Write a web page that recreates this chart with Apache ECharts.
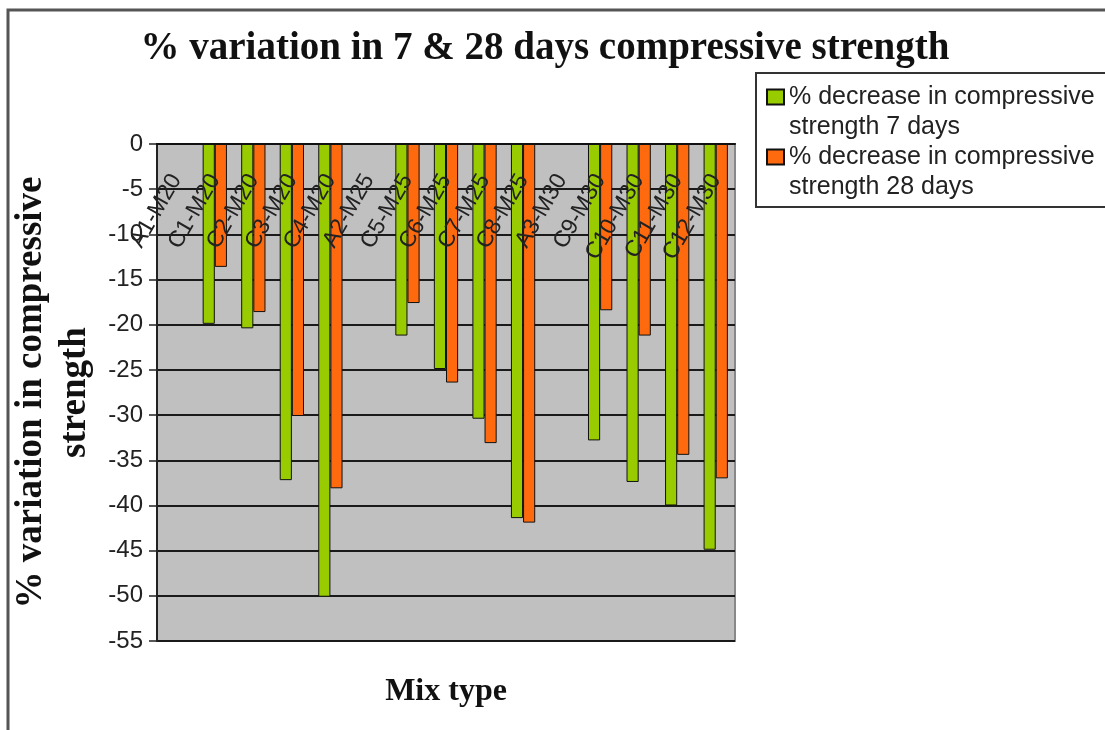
<!DOCTYPE html>
<html>
<head>
<meta charset="utf-8">
<script src="https://cdn.jsdelivr.net/npm/echarts@6/dist/echarts.min.js"></script>
<style>
html,body{margin:0;padding:0;background:#fff;}
#chart{width:1105px;height:730px;}
</style>
</head>
<body>
<div id="chart"></div>
<script>
const categories = ['A1-M20','C1-M20','C2-M20','C3-M20','C4-M20','A2-M25','C5-M25','C6-M25','C7-M25','C8-M25','A3-M30','C9-M30','C10-M30','C11-M30','C12-M30'];
const decrease7Days = [0, -19.9, -20.4, -37.2, -50.1, 0, -21.2, -24.9, -30.4, -41.4, 0, -32.8, -37.4, -40.0, -44.9];
const decrease28Days = [0, -13.6, -18.6, -30.1, -38.1, 0, -17.6, -26.4, -33.1, -41.9, 0, -18.4, -21.2, -34.4, -37.0];
const seriesNames = ['% decrease in compressive\nstrength 7 days', '% decrease in compressive\nstrength 28 days'];
const titleText = '% variation in 7 & 28 days compressive strength';
const yAxisName = '% variation in compressive\nstrength';
const xAxisName = 'Mix type';

const chart = echarts.init(document.getElementById('chart'), null, {renderer: 'canvas'});
const serif = '"Liberation Serif", "DejaVu Serif", serif';
const sans = '"Liberation Sans", Arial, sans-serif';

chart.setOption({
  animation: false,
  backgroundColor: '#fff',
  graphic: [
    {type: 'rect', z: -10, shape: {x: 8, y: 10, width: 1200, height: 800},
     style: {fill: '#fff', stroke: '#555', lineWidth: 3}},
    {type: 'rect', z: -5, shape: {x: 756, y: 73, width: 400, height: 134},
     style: {fill: '#fff', stroke: '#333', lineWidth: 2}}
  ],
  title: {
    text: titleText,
    left: 540, top: 24, textAlign: 'center',
    textStyle: {fontFamily: serif, fontWeight: 'bold', fontSize: 39, color: '#111'}
  },
  legend: {
    orient: 'vertical',
    left: 766, top: 52,
    padding: 0,
    itemGap: -30,
    itemWidth: 17, itemHeight: 15,
    icon: 'rect',
    selectedMode: false,
    data: seriesNames,
    formatter: function (name) { return '\n' + name; },
    textStyle: {fontFamily: sans, fontSize: 25, color: '#222', lineHeight: 30}
  },
  grid: {
    left: 157, right: 370, top: 144, bottom: 89,
    show: true, backgroundColor: '#c0c0c0', borderColor: '#888', borderWidth: 2
  },
  xAxis: [{
    type: 'category',
    data: categories,
    position: 'top',
    z: 10,
    axisLine: {onZero: false, lineStyle: {color: '#111', width: 2}},
    axisTick: {inside: true, length: 7, lineStyle: {color: '#111', width: 1.5}},
    axisLabel: {inside: true, rotate: -60, margin: 32, interval: 0,
      fontFamily: sans, fontSize: 23, color: '#222'},
    splitLine: {show: false}
  }, {
    type: 'category',
    data: categories,
    position: 'bottom',
    axisLine: {show: false, onZero: false},
    axisTick: {show: false},
    axisLabel: {show: false},
    splitLine: {show: false},
    name: xAxisName,
    nameLocation: 'middle',
    nameGap: 35,
    nameTextStyle: {fontFamily: serif, fontWeight: 'bold', fontSize: 32, color: '#111'}
  }],
  yAxis: {
    type: 'value',
    min: -55, max: 0, interval: 5,
    axisLine: {show: true, lineStyle: {color: '#222', width: 2}},
    axisTick: {show: true, length: 8, lineStyle: {color: '#222', width: 1.5}},
    axisLabel: {margin: 14, fontFamily: sans, fontSize: 24, color: '#222'},
    splitLine: {show: true, lineStyle: {color: '#1a1a1a', width: 2}},
    name: yAxisName,
    nameLocation: 'middle',
    nameGap: 57,
    nameTextStyle: {fontFamily: serif, fontWeight: 'bold', fontSize: 37, color: '#111', lineHeight: 44}
  },
  series: [{
    name: seriesNames[0],
    type: 'bar',
    data: decrease7Days,
    barGap: '0%',
    barCategoryGap: '37%',
    itemStyle: {color: '#99cc00', borderColor: '#111', borderWidth: 1}
  }, {
    name: seriesNames[1],
    type: 'bar',
    data: decrease28Days,
    itemStyle: {color: '#ff6a0e', borderColor: '#111', borderWidth: 1}
  }]
});
</script>
</body>
</html>
